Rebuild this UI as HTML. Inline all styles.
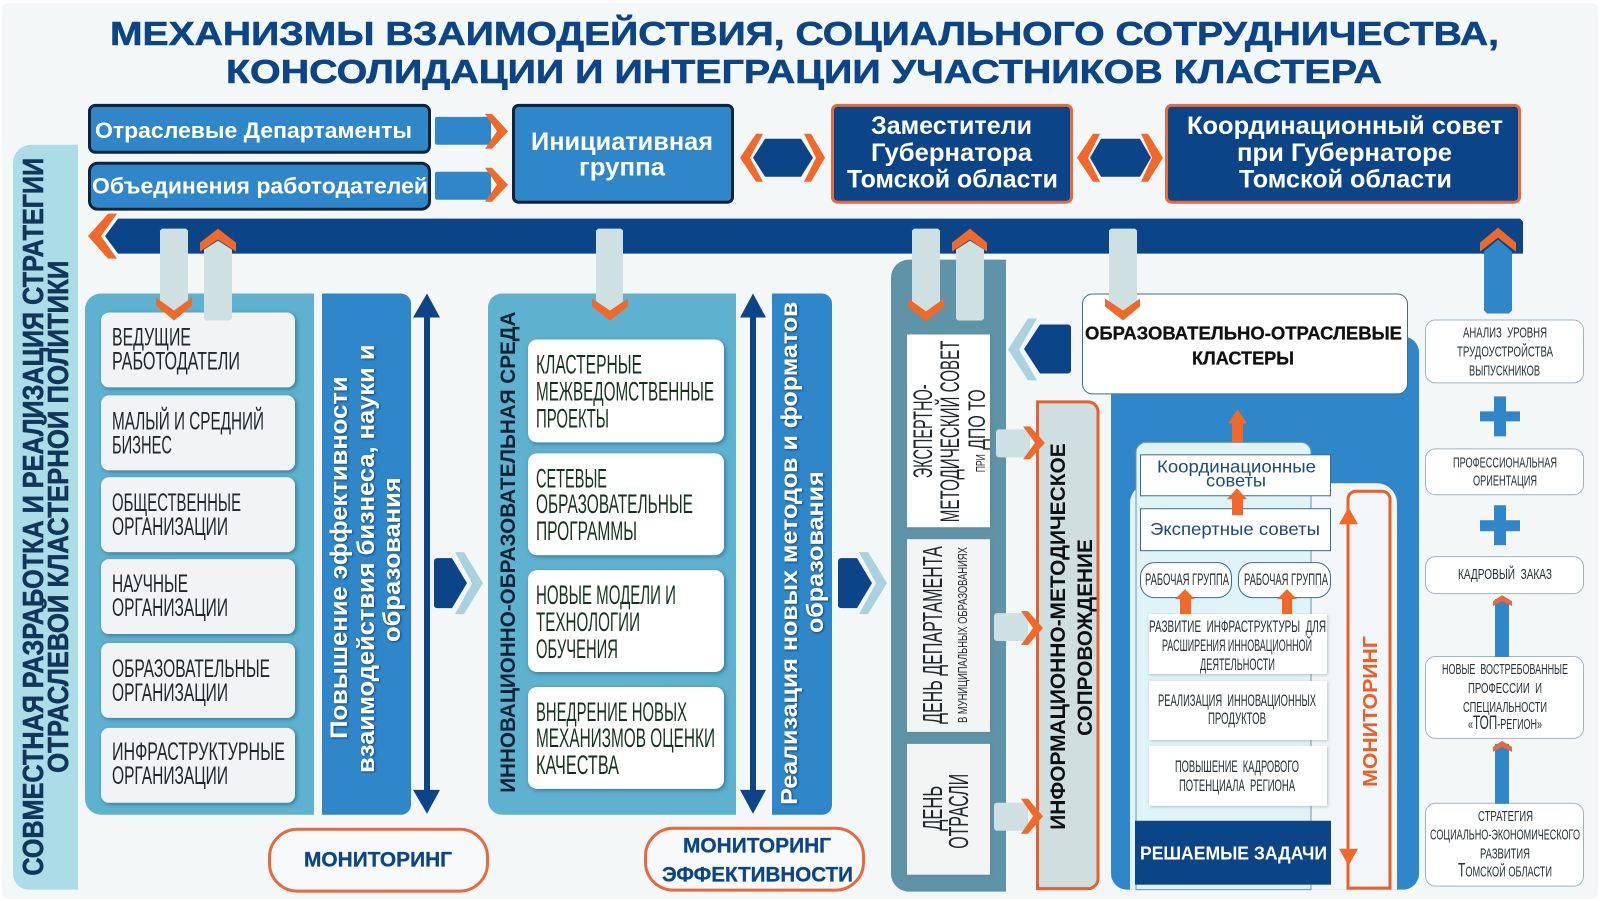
<!DOCTYPE html>
<html lang="ru"><head><meta charset="utf-8"><title>Механизмы взаимодействия</title>
<style>
html,body{margin:0;padding:0;background:#fff}
svg{display:block}
text{font-family:"Liberation Sans",sans-serif;white-space:pre}
.t{font-weight:bold;fill:#0c4587;stroke:#0c4587;stroke-width:.6px;font-size:33.5px}
.w{font-weight:bold;fill:#fff}
.b{font-weight:bold}
.hv{stroke:#12365a;stroke-width:.6px}
.n{fill:#20282c;font-size:25px}
.g{fill:#16331f;font-size:27px}
.s{fill:#263036;font-size:17px}
.r{fill:#263036;font-size:14.5px}
.m{font-weight:bold;fill:#0c4587;stroke:#0c4587;stroke-width:.3px;font-size:21px}
</style></head><body>
<svg xmlns="http://www.w3.org/2000/svg" width="1600" height="901" viewBox="0 0 1600 901">
<defs>
<filter id="sh" x="-15%" y="-15%" width="130%" height="130%"><feDropShadow dx="1.5" dy="1.5" stdDeviation="2" flood-color="#0b4560" flood-opacity=".55"/></filter>
<filter id="sl" x="-15%" y="-15%" width="130%" height="130%"><feDropShadow dx="1" dy="1" stdDeviation="1.5" flood-color="#577" flood-opacity=".4"/></filter>
<filter id="ts" x="-5%" y="-30%" width="110%" height="160%"><feDropShadow dx="1" dy="1" stdDeviation="1" flood-color="#062a50" flood-opacity=".7"/></filter>
</defs>
<rect width="1600" height="901" fill="#fff"/>
<rect x="2" y="3" width="1596" height="896" rx="6" fill="#f4f7f8"/>
<g transform="scale(1,0.9985)">

<!-- Title -->
<text class="t" x="110" y="45" textLength="1389" lengthAdjust="spacingAndGlyphs">МЕХАНИЗМЫ ВЗАИМОДЕЙСТВИЯ, СОЦИАЛЬНОГО СОТРУДНИЧЕСТВА,</text>
<text class="t" x="226" y="83" textLength="1156" lengthAdjust="spacingAndGlyphs">КОНСОЛИДАЦИИ И ИНТЕГРАЦИИ УЧАСТНИКОВ КЛАСТЕРА</text>

<!-- Top row -->
<rect x="89.5" y="105.5" width="340" height="47" rx="6" fill="#2f87c9" stroke="#10233a" stroke-width="3"/>
<rect x="89.5" y="163.5" width="340" height="46" rx="8" fill="#2f87c9" stroke="#10233a" stroke-width="3"/>
<text class="w" font-size="22" x="95" y="138" textLength="317" lengthAdjust="spacingAndGlyphs">Отраслевые Департаменты</text>
<text class="w" font-size="22" x="92" y="194" textLength="336" lengthAdjust="spacingAndGlyphs">Объединения работодателей</text>
<rect x="435" y="117" width="56" height="28" rx="2" fill="#2f87c9"/>
<rect x="435" y="172" width="56" height="28" rx="2" fill="#2f87c9"/>
<polygon points="485,114 492,114 508,131.5 492,149 485,149 497,131.5" fill="#f0682a"/>
<polygon points="485,168 492,168 508,185 492,202 485,202 497,185" fill="#f0682a"/>

<rect x="513.5" y="105.5" width="219" height="97" rx="5" fill="#2f87c9" stroke="#10233a" stroke-width="3"/>
<text class="w" font-size="25" x="531" y="150" textLength="182" lengthAdjust="spacingAndGlyphs">Инициативная</text>
<text class="w" font-size="25" x="579" y="176" textLength="86" lengthAdjust="spacingAndGlyphs">группа</text>

<polygon points="765,139 801,139 813,158 801,177 765,177 753,158" fill="#0c4587"/>
<polygon points="763,134 756,134 740,158 756,182 763,182 750,158" fill="#f0682a"/>
<polygon points="804,134 811,134 825,158 811,182 804,182 816,158" fill="#f0682a"/>

<rect x="832.5" y="105.5" width="239" height="97" rx="5" fill="#0c4587" stroke="#e8693c" stroke-width="3"/>
<text class="w" font-size="25" x="871" y="134" textLength="161" lengthAdjust="spacingAndGlyphs">Заместители</text>
<text class="w" font-size="25" x="871" y="161" textLength="161" lengthAdjust="spacingAndGlyphs">Губернатора</text>
<text class="w" font-size="25" x="847" y="188" textLength="211" lengthAdjust="spacingAndGlyphs">Томской области</text>

<polygon points="1101,139 1140,139 1151,158 1140,177 1101,177 1090,158" fill="#0c4587"/>
<polygon points="1100,134 1093,134 1077,158 1093,182 1100,182 1088,158" fill="#f0682a"/>
<polygon points="1141,134 1148,134 1163,158 1148,182 1141,182 1152,158" fill="#f0682a"/>

<rect x="1166.5" y="105.5" width="353" height="97" rx="5" fill="#0c4587" stroke="#e8693c" stroke-width="3"/>
<text class="w" font-size="25" x="1187" y="134" textLength="316" lengthAdjust="spacingAndGlyphs">Координационный совет</text>
<text class="w" font-size="25" x="1237" y="161" textLength="215" lengthAdjust="spacingAndGlyphs">при Губернаторе</text>
<text class="w" font-size="25" x="1239" y="188" textLength="213" lengthAdjust="spacingAndGlyphs">Томской области</text>

<!-- Long bar -->
<polygon points="118,219 1520,219 1523,222 1523,254 118,254 105,236.5" fill="#0c4587"/>
<polygon points="108,214 117,214 101,236.5 117,259 108,259 88,236.5" fill="#f0682a"/>

<!-- Left strip -->
<path d="M78 145H31a18 18 0 0 0-18 18V875a16 16 0 0 0 16 16H78Z" fill="#acdde6"/>
<text class="b hv" font-size="28.5" fill="#12365a" transform="translate(43,877) rotate(-90)" textLength="719" lengthAdjust="spacingAndGlyphs">СОВМЕСТНАЯ РАЗРАБОТКА И РЕАЛИЗАЦИЯ СТРАТЕГИИ</text>
<text class="b hv" font-size="28.5" fill="#12365a" transform="translate(68,774) rotate(-90)" textLength="513" lengthAdjust="spacingAndGlyphs">ОТРАСЛЕВОЙ КЛАСТЕРНОЙ ПОЛИТИКИ</text>

<!-- Panel 1 -->
<path d="M314 294H101a16 16 0 0 0-16 16V800a16 16 0 0 0 16 16H314Z" fill="#5fb1d0"/>
<g fill="#f1f3f4" filter="url(#sh)">
<rect x="101" y="313" width="194" height="75" rx="8"/>
<rect x="101" y="396" width="194" height="75" rx="8"/>
<rect x="101" y="478" width="194" height="75" rx="8"/>
<rect x="101" y="560" width="194" height="75" rx="8"/>
<rect x="101" y="644" width="194" height="75" rx="8"/>
<rect x="101" y="729" width="194" height="75" rx="8"/>
</g>
<text class="n" x="112" y="346" textLength="79" lengthAdjust="spacingAndGlyphs">ВЕДУЩИЕ</text>
<text class="n" x="112" y="370" textLength="128" lengthAdjust="spacingAndGlyphs">РАБОТОДАТЕЛИ</text>
<text class="n" x="112" y="430" textLength="152" lengthAdjust="spacingAndGlyphs">МАЛЫЙ И СРЕДНИЙ</text>
<text class="n" x="112" y="454" textLength="60" lengthAdjust="spacingAndGlyphs">БИЗНЕС</text>
<text class="n" x="112" y="512" textLength="129" lengthAdjust="spacingAndGlyphs">ОБЩЕСТВЕННЫЕ</text>
<text class="n" x="112" y="536" textLength="116" lengthAdjust="spacingAndGlyphs">ОРГАНИЗАЦИИ</text>
<text class="n" x="112" y="593" textLength="76" lengthAdjust="spacingAndGlyphs">НАУЧНЫЕ</text>
<text class="n" x="112" y="617" textLength="116" lengthAdjust="spacingAndGlyphs">ОРГАНИЗАЦИИ</text>
<text class="n" x="112" y="678" textLength="158" lengthAdjust="spacingAndGlyphs">ОБРАЗОВАТЕЛЬНЫЕ</text>
<text class="n" x="112" y="702" textLength="116" lengthAdjust="spacingAndGlyphs">ОРГАНИЗАЦИИ</text>
<text class="n" x="112" y="761" textLength="173" lengthAdjust="spacingAndGlyphs">ИНФРАСТРУКТУРНЫЕ</text>
<text class="n" x="112" y="785" textLength="116" lengthAdjust="spacingAndGlyphs">ОРГАНИЗАЦИИ</text>

<!-- Blue panel 2 -->
<path d="M322 294H401a10 10 0 0 1 10 10V806a10 10 0 0 1-10 10H322Z" fill="#2f87c9"/>
<g filter="url(#ts)">
<text class="w" font-size="24" transform="translate(347,740) rotate(-90)" textLength="363" lengthAdjust="spacingAndGlyphs">Повышение эффективности</text>
<text class="w" font-size="24" transform="translate(374,774) rotate(-90)" textLength="429" lengthAdjust="spacingAndGlyphs">взаимодействия бизнеса, науки и</text>
<text class="w" font-size="24" transform="translate(400,643) rotate(-90)" textLength="165" lengthAdjust="spacingAndGlyphs">образования</text>
</g>
<polygon points="427,294 440,318 430,318 430,791 440,791 427,815 413,791 424,791 424,318 413,318" fill="#0c4587"/>

<!-- Monitoring 1 -->
<rect x="269.5" y="830.5" width="218" height="62" rx="28" fill="#f7f9fa" stroke="#e8693c" stroke-width="3"/>
<text class="m" x="304" y="868" textLength="148" lengthAdjust="spacingAndGlyphs">МОНИТОРИНГ</text>

<!-- Arrow 1 -->
<path d="M434 562a3 3 0 0 1 3-3H452L467 584 452 609H437a3 3 0 0 1-3-3Z" fill="#0c4587"/>
<polygon points="455,553 464,553 483,584 464,615 455,615 472,584" fill="#a9d2de"/>

<!-- Panel 3 -->
<path d="M736 294H502a14 14 0 0 0-14 14V802a14 14 0 0 0 14 14H736Z" fill="#5fb1d0"/>
<text class="b" font-size="21.5" fill="#0f2236" transform="translate(515,794) rotate(-90)" textLength="482" lengthAdjust="spacingAndGlyphs">ИННОВАЦИОННО-ОБРАЗОВАТЕЛЬНАЯ СРЕДА</text>
<g fill="#fff" filter="url(#sh)">
<rect x="528" y="340" width="196" height="103" rx="9"/>
<rect x="528" y="454" width="196" height="102" rx="9"/>
<rect x="528" y="571" width="196" height="102" rx="9"/>
<rect x="528" y="688" width="196" height="102" rx="9"/>
</g>
<text class="g" x="536" y="374" textLength="106" lengthAdjust="spacingAndGlyphs">КЛАСТЕРНЫЕ</text>
<text class="g" x="536" y="401" textLength="178" lengthAdjust="spacingAndGlyphs">МЕЖВЕДОМСТВЕННЫЕ</text>
<text class="g" x="536" y="428" textLength="73" lengthAdjust="spacingAndGlyphs">ПРОЕКТЫ</text>
<text class="g" x="536" y="488" textLength="71" lengthAdjust="spacingAndGlyphs">СЕТЕВЫЕ</text>
<text class="g" x="536" y="514" textLength="157" lengthAdjust="spacingAndGlyphs">ОБРАЗОВАТЕЛЬНЫЕ</text>
<text class="g" x="536" y="541" textLength="101" lengthAdjust="spacingAndGlyphs">ПРОГРАММЫ</text>
<text class="g" x="536" y="605" textLength="140" lengthAdjust="spacingAndGlyphs">НОВЫЕ МОДЕЛИ И</text>
<text class="g" x="536" y="632" textLength="104" lengthAdjust="spacingAndGlyphs">ТЕХНОЛОГИИ</text>
<text class="g" x="536" y="659" textLength="82" lengthAdjust="spacingAndGlyphs">ОБУЧЕНИЯ</text>
<text class="g" x="536" y="722" textLength="151" lengthAdjust="spacingAndGlyphs">ВНЕДРЕНИЕ НОВЫХ</text>
<text class="g" x="536" y="748" textLength="179" lengthAdjust="spacingAndGlyphs">МЕХАНИЗМОВ ОЦЕНКИ</text>
<text class="g" x="536" y="775" textLength="83" lengthAdjust="spacingAndGlyphs">КАЧЕСТВА</text>

<polygon points="753,294 766,318 756,318 756,791 766,791 753,815 740,791 750,791 750,318 740,318" fill="#0c4587"/>

<!-- Blue panel 4 -->
<path d="M772 294H822a10 10 0 0 1 10 10V806a10 10 0 0 1-10 10H772Z" fill="#2f87c9"/>
<g filter="url(#ts)">
<text class="w" font-size="23.5" transform="translate(797,806) rotate(-90)" textLength="504" lengthAdjust="spacingAndGlyphs">Реализация новых методов и форматов</text>
<text class="w" font-size="23.5" transform="translate(823,634) rotate(-90)" textLength="162" lengthAdjust="spacingAndGlyphs">образования</text>
</g>

<!-- Monitoring 2 -->
<rect x="645.5" y="829.5" width="218" height="62" rx="28" fill="#f7f9fa" stroke="#e8693c" stroke-width="3"/>
<text class="m" x="683" y="854" textLength="148" lengthAdjust="spacingAndGlyphs">МОНИТОРИНГ</text>
<text class="m" x="662" y="883" textLength="191" lengthAdjust="spacingAndGlyphs">ЭФФЕКТИВНОСТИ</text>

<!-- Arrow 2 -->
<path d="M838 562a3 3 0 0 1 3-3H857L872 584 857 609H841a3 3 0 0 1-3-3Z" fill="#0c4587"/>
<polygon points="859,553 868,553 887,584 868,615 859,615 876,584" fill="#a9d2de"/>

<!-- Panel 5 -->
<path d="M1006 260H909a18 18 0 0 0-18 18V875a18 18 0 0 0 18 18H1006Z" fill="#5f93a8"/>
<rect x="907" y="335" width="83" height="193" fill="#fff" filter="url(#sl)"/>
<rect x="907" y="540" width="83" height="193" fill="#f3f4f4" filter="url(#sl)"/>
<rect x="907" y="745" width="83" height="131" fill="#f3f4f4" filter="url(#sl)"/>
<g fill="#20282c">
<text font-size="27" transform="translate(932,479) rotate(-90)" textLength="94" lengthAdjust="spacingAndGlyphs">ЭКСПЕРТНО-</text>
<text font-size="27" transform="translate(959,523) rotate(-90)" textLength="182" lengthAdjust="spacingAndGlyphs">МЕТОДИЧЕСКИЙ СОВЕТ</text>
<text font-size="24" transform="translate(985,473) rotate(-90)" textLength="83" lengthAdjust="spacingAndGlyphs"><tspan font-size="13">ПРИ</tspan> ДПО ТО</text>
<text font-size="28" transform="translate(942,725) rotate(-90)" textLength="178" lengthAdjust="spacingAndGlyphs">ДЕНЬ ДЕПАРТАМЕНТА</text>
<text font-size="12.5" transform="translate(967,724) rotate(-90)" textLength="176" lengthAdjust="spacingAndGlyphs">В МУНИЦИПАЛЬНЫХ ОБРАЗОВАНИЯХ</text>
<text font-size="28" transform="translate(942,832) rotate(-90)" textLength="45" lengthAdjust="spacingAndGlyphs">ДЕНЬ</text>
<text font-size="28" transform="translate(968,850) rotate(-90)" textLength="75" lengthAdjust="spacingAndGlyphs">ОТРАСЛИ</text>
</g>

<!-- Vertical connector arrows -->
<g fill="#cfe0e2">
<polygon points="160,231 162,229 186,229 188,231 188,302 174,312 160,302"/>
<polygon points="204,250 218,241 232,250 232,319 230,321 206,321 204,319"/>
<polygon points="596,231 598,229 621,229 623,231 623,302 610,312 596,302"/>
<polygon points="912,231 914,229 938,229 940,231 940,302 926,312 912,302"/>
<polygon points="956,250 970,241 984,250 984,319 982,321 958,321 956,319"/>
<polygon points="1109,231 1111,229 1135,229 1137,231 1137,302 1123,312 1109,302"/>
</g>
<g fill="#f0682a">
<polygon points="156,298 174,311 192,298 192,306 174,321 156,306"/>
<polygon points="200,243 218,229 236,243 236,252 218,240 200,252"/>
<polygon points="592,299 610,311 628,299 628,307 610,321 592,307"/>
<polygon points="908,299 926,312 944,299 944,307 926,322 908,307"/>
<polygon points="952,243 970,229 987,243 987,252 970,240 952,252"/>
<polygon points="1105,299 1123,311 1140,299 1140,307 1123,321 1105,307"/>
</g>

<!-- Left arrow -->
<path d="M1071 328a3 3 0 0 0-3-3H1040L1024 349.500 1040 374H1068a3 3 0 0 0 3-3Z" fill="#0c4587"/>
<polygon points="1037,319 1028,319 1008,350 1028,381 1037,381 1019,350" fill="#a9d2de"/>

<!-- Right blue panel -->
<rect x="1111" y="337" width="308" height="554" rx="16" fill="#2f87c9"/>

<!-- Cluster box -->
<rect x="1082.500" y="294.500" width="325" height="100" rx="10" fill="#fff" stroke="#3d6c8c"/>
<polygon points="1109,290 1137,290 1137,302 1123,312 1109,302" fill="#cfe0e2"/>
<polygon points="1105,299 1123,311 1140,299 1140,307 1123,321 1105,307" fill="#f0682a"/>
<text class="b" font-size="18.500" fill="#111" stroke="#111" stroke-width=".3" x="1085" y="340" textLength="317" lengthAdjust="spacingAndGlyphs">ОБРАЗОВАТЕЛЬНО-ОТРАСЛЕВЫЕ</text>
<text class="b" font-size="18.500" fill="#111" stroke="#111" stroke-width=".3" x="1192" y="365" textLength="102" lengthAdjust="spacingAndGlyphs">КЛАСТЕРЫ</text>

<!-- Info panel -->
<path d="M1037.500 402.500H1088a10 10 0 0 1 10 10V880a10 10 0 0 1-10 10H1037.500Z" fill="#cfdfe0" stroke="#e8612a" stroke-width="3"/>
<text class="b" font-size="21" fill="#0d1115" transform="translate(1065,831) rotate(-90)" textLength="387" lengthAdjust="spacingAndGlyphs">ИНФОРМАЦИОННО-МЕТОДИЧЕСКОЕ</text>
<text class="b" font-size="21" fill="#0d1115" transform="translate(1092,737) rotate(-90)" textLength="197" lengthAdjust="spacingAndGlyphs">СОПРОВОЖДЕНИЕ</text>

<g fill="#cfe0e2">
<rect x="996" y="430" width="34" height="28" rx="3"/>
<rect x="994" y="614" width="34" height="28" rx="3"/>
<rect x="994" y="804" width="34" height="28" rx="3"/>
</g>
<g fill="#f0682a">
<polygon points="1023,427 1030,427 1045,443.500 1030,460 1023,460 1035,443.500"/>
<polygon points="1021,612 1028,612 1043,629 1028,646 1021,646 1033,629"/>
<polygon points="1021,800 1028,800 1043,817.500 1028,835 1021,835 1033,817.500"/>
</g>

<!-- Inner cluster -->
<path d="M1130 891V504a20 20 0 0 1 20-20H1377a20 20 0 0 1 20 20V891Z" fill="#f2f6f8"/>
<path d="M1130 891V504a14 14 0 0 1 6-11.500V891Z" fill="#dff3f8"/>
<path d="M1136 891V453a10 10 0 0 1 10-10H1301a10 10 0 0 1 10 10V891Z" fill="#dff3f8" stroke="#6d94ac"/>
<polygon points="1237.500,410 1247,424 1243,424 1243,443 1232,443 1232,424 1228,424" fill="#f0682a"/>

<rect x="1140.500" y="455.500" width="190" height="41" fill="#fff" stroke="#3d6c8c"/>
<rect x="1140.500" y="509.500" width="190" height="42" fill="#fff" stroke="#3d6c8c"/>
<text font-size="18" fill="#1d4a78" x="1157" y="473" textLength="159" lengthAdjust="spacingAndGlyphs">Координационные</text>
<text font-size="18" fill="#1d4a78" x="1206" y="487" textLength="60" lengthAdjust="spacingAndGlyphs">советы</text>
<text font-size="18" fill="#1d4a78" x="1150" y="536" textLength="170" lengthAdjust="spacingAndGlyphs">Экспертные советы</text>
<polygon points="1237,489 1247,500 1243,500 1243,516 1232,516 1232,500 1227,500" fill="#f0682a"/>

<rect x="1140.500" y="563.500" width="91" height="35" rx="14" fill="#fff" stroke="#3d6c8c"/>
<rect x="1238.500" y="563.500" width="92" height="35" rx="14" fill="#fff" stroke="#3d6c8c"/>
<text class="s" x="1145" y="586" textLength="84" lengthAdjust="spacingAndGlyphs">РАБОЧАЯ ГРУППА</text>
<text class="s" x="1244" y="586" textLength="84" lengthAdjust="spacingAndGlyphs">РАБОЧАЯ ГРУППА</text>

<g fill="#fff" filter="url(#sl)">
<rect x="1149" y="615" width="178" height="60"/>
<rect x="1149" y="682" width="178" height="59"/>
<rect x="1149" y="747" width="178" height="60"/>
</g>
<polygon points="1185,590 1195,600 1191,600 1191,615 1180,615 1180,600 1175,600" fill="#f0682a"/>
<polygon points="1287,590 1297,600 1292,600 1292,615 1282,615 1282,600 1277,600" fill="#f0682a"/>
<text class="s" x="1149" y="633" textLength="177" lengthAdjust="spacingAndGlyphs">РАЗВИТИЕ  ИНФРАСТРУКТУРЫ  ДЛЯ</text>
<text class="s" x="1162" y="652" textLength="150" lengthAdjust="spacingAndGlyphs">РАСШИРЕНИЯ ИННОВАЦИОННОЙ</text>
<text class="s" x="1200" y="671" textLength="75" lengthAdjust="spacingAndGlyphs">ДЕЯТЕЛЬНОСТИ</text>
<text class="s" x="1158" y="707" textLength="158" lengthAdjust="spacingAndGlyphs">РЕАЛИЗАЦИЯ  ИННОВАЦИОННЫХ</text>
<text class="s" x="1208" y="725" textLength="58" lengthAdjust="spacingAndGlyphs">ПРОДУКТОВ</text>
<text class="s" x="1175" y="773" textLength="124" lengthAdjust="spacingAndGlyphs">ПОВЫШЕНИЕ  КАДРОВОГО</text>
<text class="s" x="1179" y="792" textLength="116" lengthAdjust="spacingAndGlyphs">ПОТЕНЦИАЛА  РЕГИОНА</text>

<rect x="1135" y="822" width="196" height="64" fill="#0c4587"/>
<text class="w" font-size="18.500" x="1140" y="861" textLength="187" lengthAdjust="spacingAndGlyphs">РЕШАЕМЫЕ ЗАДАЧИ</text>

<!-- Monitoring loop -->
<path d="M1348 889.500V500a8 8 0 0 1 8-8H1382a8 8 0 0 1 8 8V889.500H1348Z" fill="none" stroke="#e8612a" stroke-width="3"/>
<polygon points="1348.500,508 1358,525 1339,525" fill="#f0682a"/>
<polygon points="1348.500,867 1358,850 1339,850" fill="#f0682a"/>
<text class="b" font-size="20.500" fill="#e8612a" transform="translate(1377,788) rotate(-90)" textLength="151" lengthAdjust="spacingAndGlyphs">МОНИТОРИНГ</text>

<!-- Right column -->
<polygon points="1484,252 1498,240 1512,252 1512,311 1509,314 1487,314 1484,311" fill="#2f87c9"/>
<polygon points="1480,243 1498,228 1516,243 1516,252 1498,238 1480,252" fill="#f0682a"/>
<g fill="#fff" stroke="#9db4c2">
<rect x="1425.500" y="320.500" width="158" height="63" rx="10"/>
<rect x="1425.500" y="449.500" width="158" height="46" rx="10"/>
<rect x="1425.500" y="557.500" width="158" height="37" rx="10"/>
</g>
<rect x="1495" y="600" width="14" height="62" fill="#2f87c9"/>
<rect x="1495" y="745" width="14" height="64" fill="#2f87c9"/>
<g fill="#fff" stroke="#9db4c2">
<rect x="1425.500" y="657.500" width="158" height="82" rx="10"/>
<rect x="1425.500" y="804.500" width="158" height="83" rx="10"/>
</g>
<rect x="1495" y="652" width="14" height="6" fill="#2f87c9"/>
<rect x="1495" y="800" width="14" height="5" fill="#2f87c9"/>
<polygon points="1493,602 1502,596 1512,602 1512,607 1502,602 1493,607" fill="#e8693c"/>
<polygon points="1493,748 1502,742 1512,748 1512,753 1502,748 1493,753" fill="#e8693c"/>
<g fill="#2f87c9">
<rect x="1480" y="412" width="40" height="10"/><rect x="1494" y="397" width="12" height="40"/>
<rect x="1480" y="521" width="40" height="11"/><rect x="1494" y="506" width="12" height="40"/>
</g>
<text class="r" x="1463" y="338" textLength="84" lengthAdjust="spacingAndGlyphs">АНАЛИЗ  УРОВНЯ</text>
<text class="r" x="1457" y="357" textLength="96" lengthAdjust="spacingAndGlyphs">ТРУДОУСТРОЙСТВА</text>
<text class="r" x="1469" y="376" textLength="71" lengthAdjust="spacingAndGlyphs">ВЫПУСКНИКОВ</text>
<text class="r" x="1453" y="468" textLength="104" lengthAdjust="spacingAndGlyphs">ПРОФЕССИОНАЛЬНАЯ</text>
<text class="r" x="1473" y="486" textLength="64" lengthAdjust="spacingAndGlyphs">ОРИЕНТАЦИЯ</text>
<text class="r" x="1458" y="580" textLength="94" lengthAdjust="spacingAndGlyphs">КАДРОВЫЙ  ЗАКАЗ</text>
<text class="r" x="1442" y="675" textLength="126" lengthAdjust="spacingAndGlyphs">НОВЫЕ  ВОСТРЕБОВАННЫЕ</text>
<text class="r" x="1468" y="694" textLength="74" lengthAdjust="spacingAndGlyphs">ПРОФЕССИИ  И</text>
<text class="r" x="1463" y="713" textLength="84" lengthAdjust="spacingAndGlyphs">СПЕЦИАЛЬНОСТИ</text>
<text class="r" x="1468" y="730" textLength="74" lengthAdjust="spacingAndGlyphs">«<tspan font-size="19">ТОП</tspan>-РЕГИОН»</text>
<text class="r" x="1478" y="822" textLength="55" lengthAdjust="spacingAndGlyphs">СТРАТЕГИЯ</text>
<text class="r" x="1430" y="841" textLength="150" lengthAdjust="spacingAndGlyphs">СОЦИАЛЬНО-ЭКОНОМИЧЕСКОГО</text>
<text class="r" x="1480" y="860" textLength="50" lengthAdjust="spacingAndGlyphs">РАЗВИТИЯ</text>
<text class="r" x="1458" y="878" textLength="94" lengthAdjust="spacingAndGlyphs"><tspan font-size="19">Т</tspan>ОМСКОЙ ОБЛАСТИ</text>
</g>
</svg>
</body></html>
